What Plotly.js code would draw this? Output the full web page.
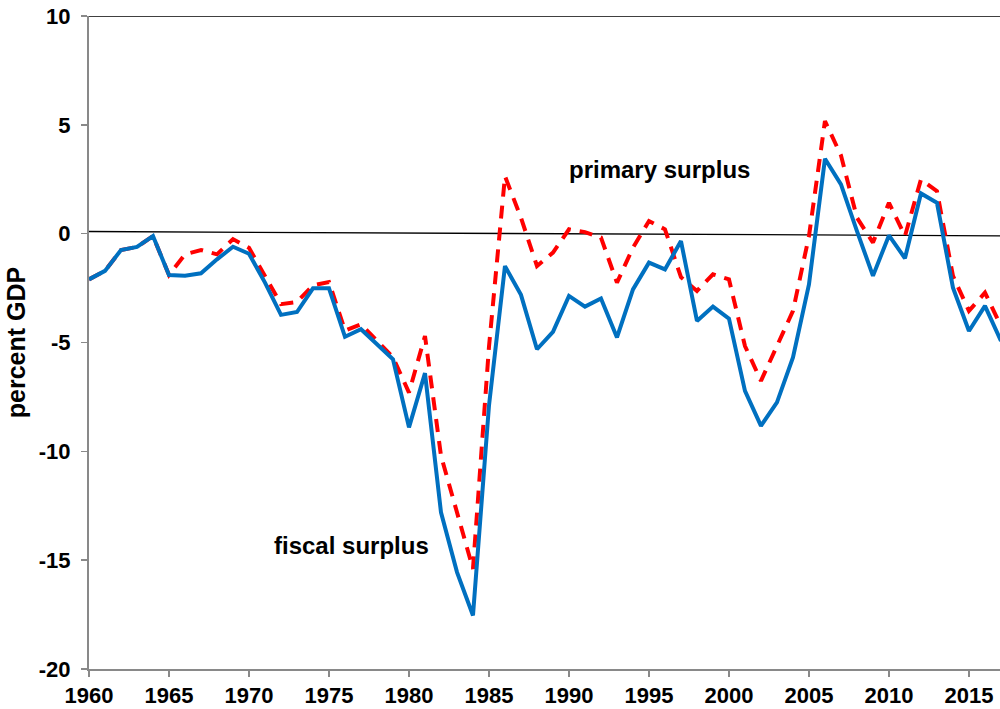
<!DOCTYPE html>
<html>
<head>
<meta charset="utf-8">
<script src="https://cdn.plot.ly/plotly-3.0.1.min.js"></script>
<style>
html,body{margin:0;padding:0;background:#fff;}
#chart{width:1000px;height:709px;}
</style>
</head>
<body>
<div id="chart"></div>
<script>
var years = [1960,1961,1962,1963,1964,1965,1966,1967,1968,1969,
             1970,1971,1972,1973,1974,1975,1976,1977,1978,1979,
             1980,1981,1982,1983,1984,1985,1986,1987,1988,1989,
             1990,1991,1992,1993,1994,1995,1996,1997,1998,1999,
             2000,2001,2002,2003,2004,2005,2006,2007,2008,2009,
             2010,2011,2012,2013,2014,2015,2016,2017];

var fiscalSurplus = [-2.10,-1.71,-0.75,-0.61,-0.11,-1.90,-1.93,-1.82,-1.18,-0.60,
                     -0.92,-2.25,-3.73,-3.60,-2.51,-2.51,-4.74,-4.39,-5.08,-5.77,
                     -8.90,-6.41,-12.80,-15.55,-17.54,-7.90,-1.49,-2.81,-5.31,-4.51,
                     -2.86,-3.35,-2.98,-4.77,-2.56,-1.33,-1.64,-0.34,-4.01,-3.35,
                     -3.90,-7.22,-8.83,-7.75,-5.69,-2.33,3.44,2.26,0.12,-1.94,
                     -0.08,-1.13,1.85,1.42,-2.48,-4.47,-3.32,-4.93];

var primarySurplus = [-2.10,-1.71,-0.75,-0.61,-0.11,-1.90,-0.95,-0.75,-0.95,-0.25,
                      -0.65,-1.95,-3.24,-3.14,-2.37,-2.22,-4.45,-4.16,-4.92,-5.68,
                      -7.30,-4.70,-10.20,-12.80,-15.40,-5.20,2.64,0.73,-1.49,-0.87,
                      0.20,0.07,-0.18,-2.25,-0.64,0.58,0.20,-2.00,-2.63,-1.87,
                      -2.10,-5.16,-6.76,-5.16,-3.55,-0.11,5.17,3.60,0.73,-0.41,
                      1.42,-0.11,2.49,1.95,-1.94,-3.55,-2.71,-4.24];

var refLineX = [1960, 2017];
var refLineY = [0.10, -0.10];

var yTicks = [-20,-15,-10,-5,0,5,10];
var xTicks = [1960,1965,1970,1975,1980,1985,1990,1995,2000,2005,2010,2015];

var labelPrimary = {text: 'primary surplus', x: 1995.64, y: 2.95};
var labelFiscal = {text: 'fiscal surplus', x: 1976.38, y: -14.34};

var FONT = 'Liberation Sans, Arial, Helvetica, sans-serif';

var traces = [
  {
    x: refLineX, y: refLineY, mode: 'lines', type: 'scatter',
    line: {color: '#000000', width: 1.3}, hoverinfo: 'skip', showlegend: false
  },
  {
    x: years, y: primarySurplus, mode: 'lines', type: 'scatter', name: 'primary surplus',
    line: {color: '#FF0000', width: 4, dash: '13px,9px'}, showlegend: false
  },
  {
    x: years, y: fiscalSurplus, mode: 'lines', type: 'scatter', name: 'fiscal surplus',
    line: {color: '#0070C0', width: 4}, showlegend: false
  }
];

var layout = {
  width: 1000, height: 709,
  margin: {l: 89, r: 0, t: 16, b: 40, pad: 0},
  paper_bgcolor: '#ffffff', plot_bgcolor: '#ffffff',
  showlegend: false,
  font: {family: FONT, color: '#000000'},
  xaxis: {
    range: [1960, 2016.94],
    tickvals: xTicks,
    ticktext: xTicks.map(String),
    ticks: 'outside', ticklen: 6, tickwidth: 1.5, tickcolor: '#898989',
    showline: true, linecolor: '#898989', linewidth: 2,
    showgrid: false, zeroline: false,
    tickfont: {family: FONT, size: 22, color: '#000000', weight: 'bold'}
  },
  yaxis: {
    range: [-20, 10],
    tickvals: yTicks,
    ticktext: yTicks.map(String),
    ticks: 'outside', ticklen: 6, tickwidth: 1.5, tickcolor: '#898989',
    showline: true, linecolor: '#898989', linewidth: 2,
    showgrid: false, zeroline: false,
    ticklabelstandoff: 6,
    tickfont: {family: FONT, size: 22, color: '#000000', weight: 'bold'},
    title: {text: 'percent GDP', standoff: 6,
            font: {family: FONT, size: 25, color: '#000000', weight: 'bold'}}
  },
  shapes: [
    {type: 'line', xref: 'paper', x0: 0, x1: 1, yref: 'y', y0: 10, y1: 10,
     line: {color: '#000000', width: 1.5}}
  ],
  annotations: [
    {x: labelPrimary.x, y: labelPrimary.y, xref: 'x', yref: 'y', text: labelPrimary.text,
     showarrow: false, xanchor: 'center', yanchor: 'middle',
     font: {family: FONT, size: 24, color: '#000000', weight: 'bold'}},
    {x: labelFiscal.x, y: labelFiscal.y, xref: 'x', yref: 'y', text: labelFiscal.text,
     showarrow: false, xanchor: 'center', yanchor: 'middle',
     font: {family: FONT, size: 24, color: '#000000', weight: 'bold'}}
  ]
};

Plotly.newPlot('chart', traces, layout, {staticPlot: true, displayModeBar: false});
</script>
</body>
</html>
